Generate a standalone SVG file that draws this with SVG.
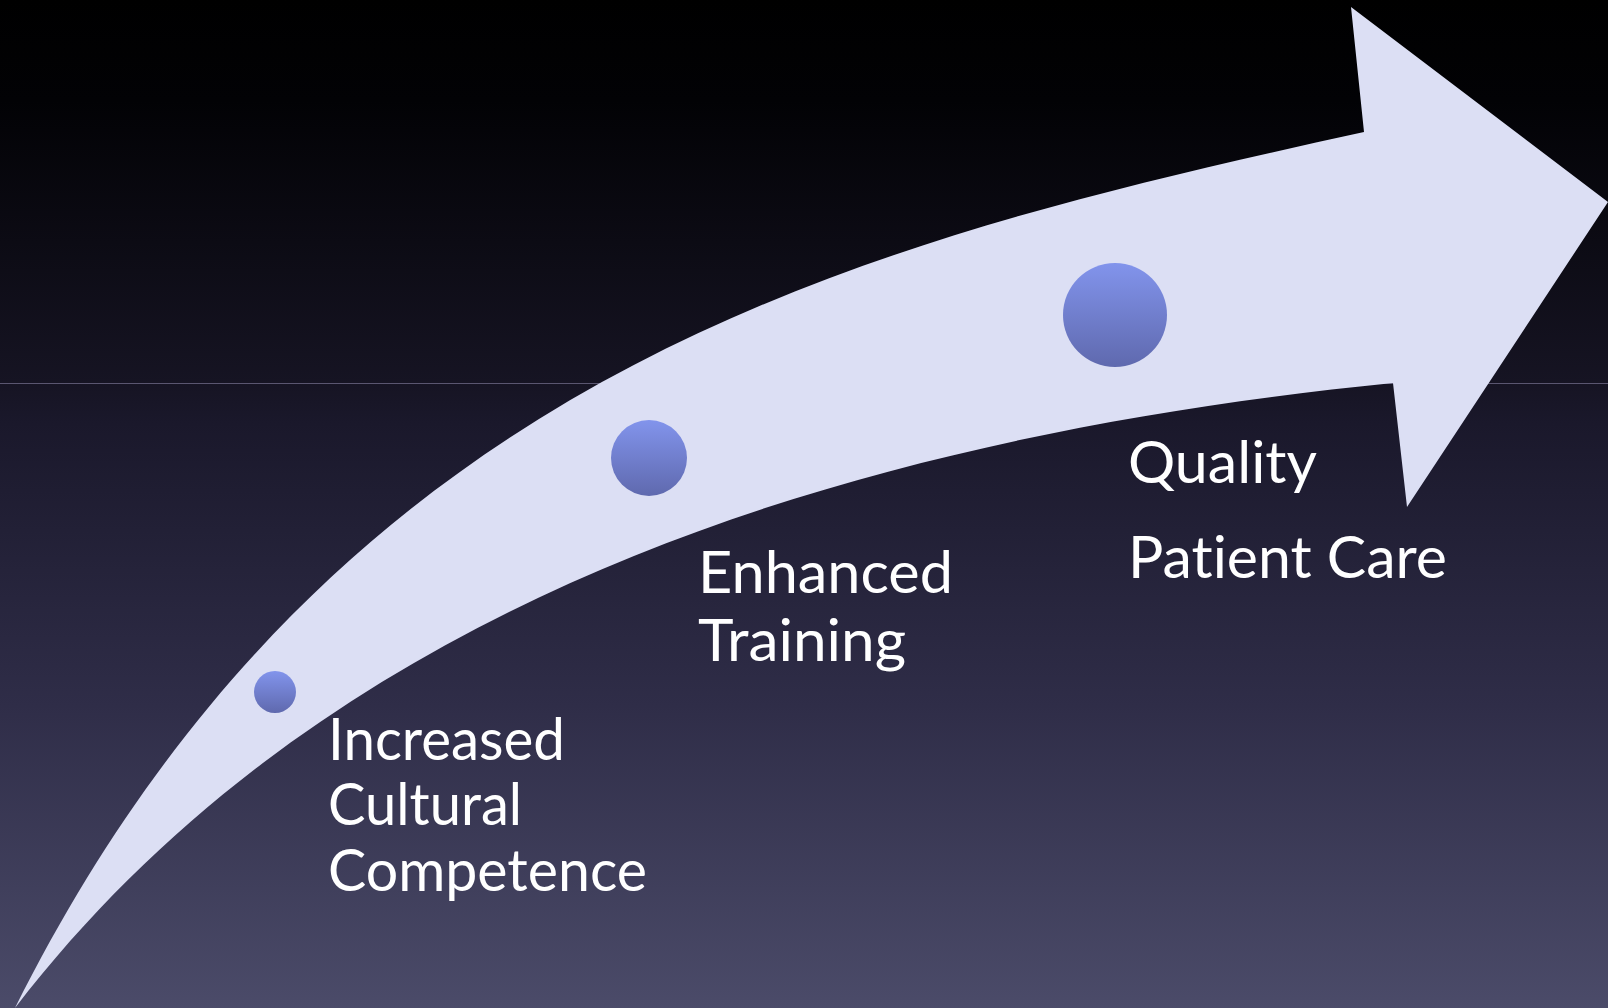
<svg xmlns="http://www.w3.org/2000/svg" width="1608" height="1008" viewBox="0 0 1608 1008">
<defs>
<linearGradient id="bg" x1="0" y1="0" x2="0" y2="1">
<stop offset="0" stop-color="#000000"/>
<stop offset="0.1" stop-color="#020205"/>
<stop offset="0.38" stop-color="#161423"/>
<stop offset="0.42" stop-color="#1a182b"/>
<stop offset="0.7" stop-color="#2f2d48"/>
<stop offset="1" stop-color="#4b4b69"/>
</linearGradient>
<linearGradient id="dot" x1="0" y1="0" x2="0" y2="1">
<stop offset="0" stop-color="#8294ec"/>
<stop offset="1" stop-color="#5f69ae"/>
</linearGradient>
<style>
.lbl{font-family:Lato,"Liberation Sans",sans-serif;font-size:58px;fill:#ffffff;font-variant-ligatures:none;font-feature-settings:"liga" 0}
.dot{fill:url(#dot)}
</style>
</defs>
<rect width="1608" height="1008" fill="url(#bg)"/>
<line x1="0" y1="383.5" x2="1608" y2="383.5" stroke="#5a5670" stroke-width="1"/>
<g id="connectors">
<path id="arrow" d="M15,1008 C335,368 864,242 1364,132 L1351,7 L1608,202 L1407,507 L1393,383 C893,433 345,579 15,1008 Z" fill="#dcdff4"/>
</g>
<g id="node-cultural">
<circle class="dot" cx="275" cy="692" r="21"/>
<text class="lbl" x="328" y="760" textLength="237" lengthAdjust="spacingAndGlyphs">Increased</text>
<text class="lbl" x="328" y="825" textLength="194" lengthAdjust="spacingAndGlyphs">Cultural</text>
<text class="lbl" x="328" y="891" textLength="319" lengthAdjust="spacingAndGlyphs">Competence</text>
</g>
<g id="node-training">
<circle class="dot" cx="649" cy="458" r="38"/>
<text class="lbl" x="698" y="593" textLength="255" lengthAdjust="spacingAndGlyphs">Enhanced</text>
<text class="lbl" x="698" y="661" textLength="208" lengthAdjust="spacingAndGlyphs">Training</text>
</g>
<g id="node-quality">
<circle class="dot" cx="1115" cy="315" r="52"/>
<text class="lbl" x="1128" y="483" textLength="189" lengthAdjust="spacingAndGlyphs">Quality</text>
<text class="lbl" x="1128" y="578" textLength="319" lengthAdjust="spacingAndGlyphs">Patient Care</text>
</g>
</svg>
